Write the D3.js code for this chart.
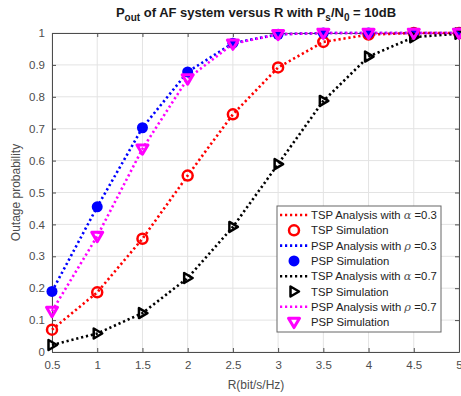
<!DOCTYPE html>
<html><head><meta charset="utf-8">
<script src="https://cdn.jsdelivr.net/npm/d3@7"></script>
<style>body{margin:0;background:#fff;}svg{display:block;font-family:"Liberation Sans",Arial,sans-serif;}</style>
</head><body><svg id="c" width="461" height="396"></svg>
<script>
const xValues = [0.5, 1, 1.5, 2, 2.5, 3, 3.5, 4, 4.5, 5];
const tspA03 = [0.07, 0.187, 0.355, 0.553, 0.745, 0.892, 0.972, 0.995, 1.0, 1.0];
const pspR03 = [0.19, 0.455, 0.703, 0.878, 0.968, 0.996, 1.0, 1.0, 1.0, 1.0];
const tspA07 = [0.022, 0.058, 0.122, 0.232, 0.392, 0.589, 0.787, 0.926, 0.987, 0.998];
const pspR07 = [0.128, 0.363, 0.637, 0.857, 0.966, 0.996, 1.0, 1.0, 1.0, 1.0];
const xTicks = [0.5, 1, 1.5, 2, 2.5, 3, 3.5, 4, 4.5, 5];
const yTicks = [0, 0.1, 0.2, 0.3, 0.4, 0.5, 0.6, 0.7, 0.8, 0.9, 1];
const legendLabels = ["TSP Analysis with α =0.3","TSP Simulation","PSP Analysis with ρ =0.3","PSP Simulation","TSP Analysis with α =0.7","TSP Simulation","PSP Analysis with ρ =0.7","PSP Simulation"];

const series = [
  {data: tspA03, color: "#ff0000", marker: "circle"},
  {data: pspR03, color: "#0000ff", marker: "dot"},
  {data: tspA07, color: "#000000", marker: "tri-right"},
  {data: pspR07, color: "#ff00ff", marker: "tri-down"}
];

const svg = d3.select("#c");
const L = 52, R = 459, T = 33, B = 352;
const x = d3.scaleLinear().domain([0.5, 5]).range([L, R]);
const y = d3.scaleLinear().domain([0, 1]).range([B, T]);
const axisCol = "#4d4d4d";

// grid
svg.append("g").selectAll("line").data(xTicks).join("line")
  .attr("x1", d => x(d)).attr("x2", d => x(d)).attr("y1", T).attr("y2", B)
  .attr("stroke", "#e3e3e3").attr("stroke-width", 1);
svg.append("g").selectAll("line").data(yTicks).join("line")
  .attr("y1", d => y(d)).attr("y2", d => y(d)).attr("x1", L).attr("x2", R)
  .attr("stroke", "#e3e3e3").attr("stroke-width", 1);

// axes
const xa = svg.append("g").attr("transform", `translate(0,${B})`)
  .call(d3.axisBottom(x).tickValues(xTicks).tickFormat(d3.format("")).tickSizeInner(-4).tickSizeOuter(0).tickPadding(9));
const xt = svg.append("g").attr("transform", `translate(0,${T})`)
  .call(d3.axisTop(x).tickValues(xTicks).tickFormat("").tickSizeInner(-4).tickSizeOuter(0));
const ya = svg.append("g").attr("transform", `translate(${L},0)`)
  .call(d3.axisLeft(y).tickValues(yTicks).tickFormat(d3.format("")).tickSizeInner(-4).tickSizeOuter(0).tickPadding(7));
const yr = svg.append("g").attr("transform", `translate(${R},0)`)
  .call(d3.axisRight(y).tickValues(yTicks).tickFormat("").tickSizeInner(-4).tickSizeOuter(0));
[xa, xt, ya, yr].forEach(g => {
  g.select(".domain").attr("stroke", axisCol);
  g.selectAll(".tick line").attr("stroke", axisCol);
  g.selectAll("text").attr("fill", "#4d4d4d").attr("font-size", 11.5).attr("font-family", "Liberation Sans, Arial, sans-serif");
});

// markers
function drawMarker(g, type, color, cx, cy) {
  if (type === "circle") {
    g.append("circle").attr("cx", cx).attr("cy", cy).attr("r", 5)
      .attr("fill", "none").attr("stroke", color).attr("stroke-width", 2.5);
  } else if (type === "dot") {
    g.append("circle").attr("cx", cx).attr("cy", cy).attr("r", 5.5).attr("fill", color);
  } else if (type === "tri-right") {
    const s = 5;
    g.append("path").attr("d", `M${cx+s},${cy} L${cx-s*0.7},${cy-s} L${cx-s*0.7},${cy+s} Z`)
      .attr("fill", "none").attr("stroke", color).attr("stroke-width", 2.5).attr("stroke-linejoin", "round");
  } else if (type === "tri-down") {
    const s = 5.5;
    g.append("path").attr("d", `M${cx},${cy+s} L${cx-s},${cy-s*0.7} L${cx+s},${cy-s*0.7} Z`)
      .attr("fill", "none").attr("stroke", color).attr("stroke-width", 3).attr("stroke-linejoin", "round");
  }
}

const line = d3.line().x((d, i) => x(xValues[i])).y(d => y(d));
const plot = svg.append("g");
series.forEach(s => {
  plot.append("path").datum(s.data).attr("d", line)
    .attr("fill", "none").attr("stroke", s.color).attr("stroke-width", 2.6)
    .attr("stroke-dasharray", "2.2,2.8");
});
series.forEach(s => {
  const g = plot.append("g");
  s.data.forEach((v, i) => drawMarker(g, s.marker, s.color, x(xValues[i]), y(v)));
});

// title
const title = svg.append("text").attr("x", 256).attr("y", 17).attr("text-anchor", "middle")
  .attr("font-size", 13).attr("font-weight", "bold").attr("fill", "#1a1a1a");
title.append("tspan").text("P");
title.append("tspan").attr("dy", 4).attr("font-size", 10).text("out");
title.append("tspan").attr("dy", -4).text(" of AF system versus R with P");
title.append("tspan").attr("dy", 4).attr("font-size", 10).text("s");
title.append("tspan").attr("dy", -4).text("/N");
title.append("tspan").attr("dy", 4).attr("font-size", 10).text("0");
title.append("tspan").attr("dy", -4).text(" = 10dB");

// axis labels
svg.append("text").attr("x", 256).attr("y", 389).attr("text-anchor", "middle")
  .attr("font-size", 12).attr("fill", "#4d4d4d").text("R(bit/s/Hz)");
svg.append("text").attr("transform", `translate(20,${(T+B)/2}) rotate(-90)`).attr("text-anchor", "middle")
  .attr("font-size", 12).attr("fill", "#4d4d4d").text("Outage probability");

// legend
const lg = svg.append("g");
lg.append("rect").attr("x", 277).attr("y", 206).attr("width", 164).attr("height", 126)
  .attr("fill", "#fff").attr("stroke", "#666").attr("stroke-width", 1);
legendLabels.forEach((lab, i) => {
  const s = series[Math.floor(i / 2)];
  const cy = 215 + i * 15.3;
  if (i % 2 === 0) {
    lg.append("line").attr("x1", 280).attr("x2", 308).attr("y1", cy).attr("y2", cy)
      .attr("stroke", s.color).attr("stroke-width", 2.6).attr("stroke-dasharray", "2.2,2.8");
  } else {
    drawMarker(lg, s.marker, s.color, 294, cy);
  }
  const t = lg.append("text").attr("x", 311).attr("y", cy + 4).attr("font-size", 11.3).attr("fill", "#222");
  const m = lab.match(/^(.*with )([αρ])( =.*)$/);
  if (m) {
    t.append("tspan").text(m[1]);
    t.append("tspan").attr("font-family", "DejaVu Serif, serif").attr("font-style", "italic").attr("fill", "#555").text(m[2]);
    t.append("tspan").text(m[3]);
  } else t.text(lab);
});
</script></body></html>
